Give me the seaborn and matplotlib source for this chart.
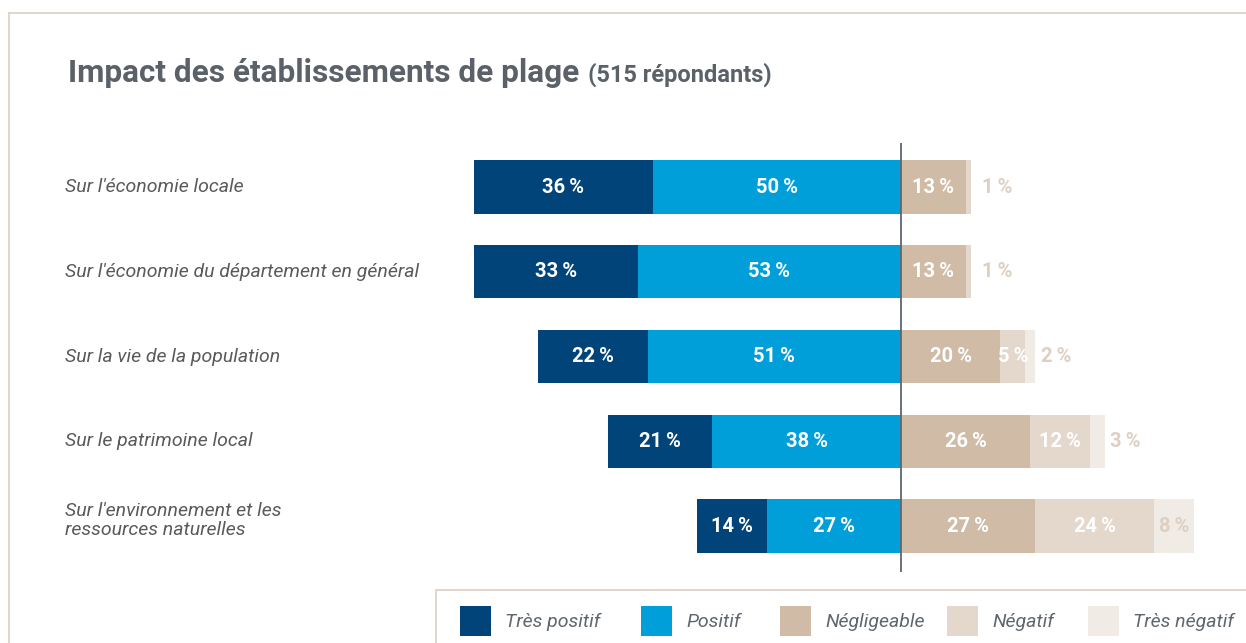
import numpy as np
import pandas as pd
import seaborn as sns
from matplotlib import pyplot as plt
from matplotlib.patches import Rectangle
from matplotlib.lines import Line2D
from matplotlib.transforms import blended_transform_factory

# Données (en %)
categories = ["Sur l'économie locale",
              "Sur l'économie du département en général",
              "Sur la vie de la population",
              "Sur le patrimoine local",
              "Sur l'environnement et les\nressources naturelles"]
tres_positif = [36, 33, 22, 21, 14]
positif = [50, 53, 51, 38, 27]
negligeable = [13, 13, 20, 26, 27]
negatif = [1, 1, 5, 12, 24]
tres_negatif = [0, 0, 2, 3, 8]

legend_labels = ["Très positif", "Positif", "Négligeable", "Négatif", "Très négatif"]
colors = ["#00447a", "#009fda", "#cfbba6", "#e4d8cc", "#f0ebe5"]
beige_txt = "#ddd0c3"
grey = "#5b6168"

sns.set_style("white")
plt.rcParams['font.family'] = ['Roboto', 'DejaVu Sans']

W, H = 1246, 643
fig = plt.figure(figsize=(W / 100, H / 100), dpi=100)
ax = fig.add_axes([430 / W, 1 - 572 / H, 816 / W, (572 - 143) / H])

df = pd.DataFrame({"cat": categories, "tp": tres_positif, "p": positif,
                   "n": negligeable, "neg": negatif, "tn": tres_negatif})

bw = 0.63
bar_kw = dict(orient="h", width=bw, saturation=1, linewidth=0, edgecolor="none", ax=ax)
# côté gauche (valeurs négatives, empilées)
sns.barplot(x=-(df.tp + df.p), y=df.cat, color=colors[0], **bar_kw)
sns.barplot(x=-df.p, y=df.cat, color=colors[1], **bar_kw)
# côté droit
sns.barplot(x=df.n + df.neg + df.tn, y=df.cat, color=colors[4], **bar_kw)
sns.barplot(x=df.n + df.neg, y=df.cat, color=colors[3], **bar_kw)
sns.barplot(x=df.n, y=df.cat, color=colors[2], **bar_kw)

px = 4.97
ax.set_xlim((430 - 901) / px, (1246 - 901) / px)
ax.set_ylim(4 + (572 - 526) / 84.75, -(187 - 143) / 84.75)
ax.axvline(0, color="#5f666d", lw=1.3)
ax.set_xlabel("")
ax.set_ylabel("")
ax.set_xticks([])
ax.set_yticks([])
for s in ax.spines.values():
    s.set_visible(False)


def pct(v):
    return f"{v}\u2009%"


lab = dict(fontsize=14.5, fontweight="bold", va="center")
for i, r in df.iterrows():
    ax.text(-(r.p + r.tp / 2), i, pct(r.tp), color="white", ha="center", **lab)
    ax.text(-r.p / 2, i, pct(r.p), color="white", ha="center", **lab)
    ax.text(r.n / 2, i, pct(r.n), color="white", ha="center", **lab)
    if r.tn > 0:
        ax.text(r.n + r.neg / 2, i, pct(r.neg), color="white", ha="center", **lab)
        if r.tn >= 5:
            ax.text(r.n + r.neg + r.tn / 2, i, pct(r.tn), color=beige_txt, ha="center", **lab)
        else:
            ax.text(r.n + r.neg + r.tn + 1.1, i, pct(r.tn), color=beige_txt, ha="left", **lab)
    else:
        ax.text(r.n + r.neg + 2.2, i, pct(r.neg), color=beige_txt, ha="left", **lab)

# libellés des catégories
tr = blended_transform_factory(fig.transFigure, ax.transData)
for i, c in enumerate(categories):
    yy = i - 0.06 if "\n" in c else i
    ax.text(65 / W, yy, c, transform=tr, ha="left", va="center", fontsize=14,
            style="italic", color="#5a5a5a", linespacing=1.08)

# titre
fig.text(68 / W, 1 - 73 / H, "Impact des établissements de plage", fontsize=22.7,
         fontweight="bold", color=grey, va="center", ha="left")
fig.text(588 / W, 1 - 75 / H, "(515 répondants)", fontsize=17,
         fontweight="bold", color=grey, va="center", ha="left")

# cadre
frame_c = "#dccfc2"
fig.add_artist(Line2D([9 / W, 1], [1 - 13 / H, 1 - 13 / H], color=frame_c, lw=1.2,
                      transform=fig.transFigure))
fig.add_artist(Line2D([9 / W, 9 / W], [1 - 13 / H, 0], color=frame_c, lw=1.2,
                      transform=fig.transFigure))
fig.add_artist(Rectangle((436 / W, -0.05), 1, (643 - 590) / H + 0.05, fill=False,
                         edgecolor=frame_c, lw=1.2, transform=fig.transFigure))

# légende
leg_x = [460, 641, 780, 947, 1088]
for x0, c, l in zip(leg_x, colors, legend_labels):
    fig.add_artist(Rectangle((x0 / W, 1 - 636 / H), 31 / W, 30 / H, facecolor=c,
                             edgecolor="none", transform=fig.transFigure))
    fig.text((x0 + 45) / W, 1 - 622 / H, l, fontsize=14, style="italic",
             color="#5f666d", va="center", ha="left")

fig.savefig("out.png", dpi=100)
